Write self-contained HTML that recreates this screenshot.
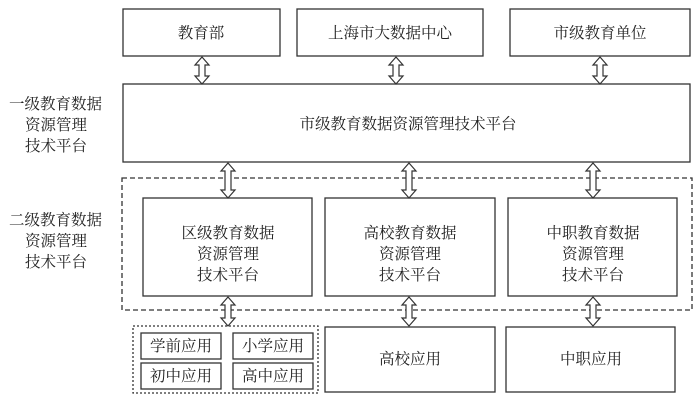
<!DOCTYPE html>
<html><head><meta charset="utf-8"><style>
body{margin:0;background:#fff}
svg text{font-family:"Liberation Serif","Noto Serif CJK SC",serif;font-size:15.5px;fill:#222}
</style></head><body>
<svg width="700" height="400" viewBox="0 0 700 400" xmlns="http://www.w3.org/2000/svg">
<g fill="#fff" stroke="#333" stroke-width="1.3">
<rect x="123" y="9" width="157" height="47"/>
<rect x="297" y="9" width="186" height="47"/>
<rect x="510" y="9" width="180" height="47"/>
<rect x="123" y="84" width="567" height="78"/>
<rect x="122" y="178" width="570" height="132" stroke-dasharray="5,3"/>
<rect x="143" y="198" width="169" height="98"/>
<rect x="325" y="198" width="170" height="98"/>
<rect x="508" y="198" width="169" height="98"/>
<rect x="133" y="326" width="185" height="67" stroke-dasharray="2,2"/>
<rect x="141" y="333" width="80" height="26"/>
<rect x="233" y="333" width="80" height="26"/>
<rect x="141" y="363" width="80" height="26"/>
<rect x="233" y="363" width="80" height="26"/>
<rect x="325" y="327" width="170" height="65"/>
<rect x="506" y="327" width="169" height="65"/>
</g>
<g fill="#fff" stroke="#333" stroke-width="1.2">
<path d="M202 57 l-7 8 h4 v11 h-4 l7 8 l7 -8 h-4 v-11 h4 z"/>
<path d="M396 57 l-7 8 h4 v11 h-4 l7 8 l7 -8 h-4 v-11 h4 z"/>
<path d="M600 57 l-7 8 h4 v11 h-4 l7 8 l7 -8 h-4 v-11 h4 z"/>
<path d="M228 163 l-7 8 h4 v19 h-4 l7 8 l7 -8 h-4 v-19 h4 z"/>
<path d="M409 163 l-7 8 h4 v19 h-4 l7 8 l7 -8 h-4 v-19 h4 z"/>
<path d="M593 163 l-7 8 h4 v19 h-4 l7 8 l7 -8 h-4 v-19 h4 z"/>
<path d="M228 297 l-7 8 h4 v13 h-4 l7 8 l7 -8 h-4 v-13 h4 z"/>
<path d="M409 297 l-7 8 h4 v13 h-4 l7 8 l7 -8 h-4 v-13 h4 z"/>
<path d="M593 297 l-7 8 h4 v13 h-4 l7 8 l7 -8 h-4 v-13 h4 z"/>
</g>
<g text-anchor="middle">
<text x="201" y="38">教育部</text>
<text x="390" y="38">上海市大数据中心</text>
<text x="600" y="38">市级教育单位</text>
<text x="408" y="129">市级教育数据资源管理技术平台</text>
<text x="228" y="238">区级教育数据</text><text x="228" y="259">资源管理</text><text x="228" y="280">技术平台</text>
<text x="410" y="238">高校教育数据</text><text x="410" y="259">资源管理</text><text x="410" y="280">技术平台</text>
<text x="593" y="238">中职教育数据</text><text x="593" y="259">资源管理</text><text x="593" y="280">技术平台</text>
<text x="181" y="351">学前应用</text><text x="273" y="351">小学应用</text>
<text x="181" y="381">初中应用</text><text x="273" y="381">高中应用</text>
<text x="410" y="364">高校应用</text>
<text x="591" y="364">中职应用</text>
</g>
<g>
<text x="9" y="109">一级教育数据</text><text x="25" y="130">资源管理</text><text x="25" y="151">技术平台</text>
<text x="9" y="225">二级教育数据</text><text x="25" y="246">资源管理</text><text x="25" y="267">技术平台</text>
</g>
</svg>
</body></html>
